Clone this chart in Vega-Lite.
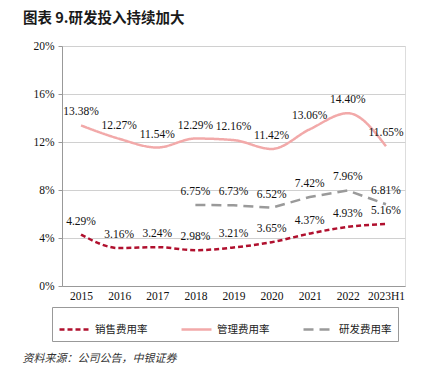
{
  "$schema": "https://vega.github.io/schema/vega-lite/v6.json",
  "width": 343,
  "height": 240,
  "autosize": {"type": "none"},
  "padding": {"left": 62, "top": 46, "right": 19, "bottom": 95},
  "background": "white",
  "title": {
    "text": "图表 9.研发投入持续加大",
    "anchor": "start",
    "frame": "group",
    "dx": -39,
    "offset": 14,
    "font": "Noto Sans CJK SC",
    "fontSize": 14.5,
    "fontWeight": "bold",
    "color": "#1a1a1a"
  },
  "data": {
    "values": [
      {"year": "2015", "series": "销售费用率", "value": 0.0429},
      {"year": "2016", "series": "销售费用率", "value": 0.0316},
      {"year": "2017", "series": "销售费用率", "value": 0.0324},
      {"year": "2018", "series": "销售费用率", "value": 0.0298},
      {"year": "2019", "series": "销售费用率", "value": 0.0321},
      {"year": "2020", "series": "销售费用率", "value": 0.0365},
      {"year": "2021", "series": "销售费用率", "value": 0.0437},
      {"year": "2022", "series": "销售费用率", "value": 0.0493},
      {"year": "2023H1", "series": "销售费用率", "value": 0.0516},
      {"year": "2015", "series": "管理费用率", "value": 0.1338},
      {"year": "2016", "series": "管理费用率", "value": 0.1227},
      {"year": "2017", "series": "管理费用率", "value": 0.1154},
      {"year": "2018", "series": "管理费用率", "value": 0.1229},
      {"year": "2019", "series": "管理费用率", "value": 0.1216},
      {"year": "2020", "series": "管理费用率", "value": 0.1142},
      {"year": "2021", "series": "管理费用率", "value": 0.1306},
      {"year": "2022", "series": "管理费用率", "value": 0.1440},
      {"year": "2023H1", "series": "管理费用率", "value": 0.1165},
      {"year": "2018", "series": "研发费用率", "value": 0.0675},
      {"year": "2019", "series": "研发费用率", "value": 0.0673},
      {"year": "2020", "series": "研发费用率", "value": 0.0652},
      {"year": "2021", "series": "研发费用率", "value": 0.0742},
      {"year": "2022", "series": "研发费用率", "value": 0.0796},
      {"year": "2023H1", "series": "研发费用率", "value": 0.0681}
    ]
  },
  "encoding": {
    "x": {
      "field": "year",
      "type": "ordinal",
      "sort": null,
      "scale": {"type": "point", "padding": 0.5},
      "axis": {
        "title": "资料来源：公司公告，中银证券",
        "titleAnchor": "start",
        "titleAlign": "left",
        "titleX": -40,
        "titleY": 66,
        "titleFont": "Noto Sans CJK SC",
        "titleFontSize": 11,
        "titleFontStyle": "italic",
        "titleFontWeight": "normal",
        "titleColor": "#333",
        "labelAngle": 0,
        "labelFont": "Liberation Serif",
        "labelFontSize": 11.5,
        "labelColor": "#111",
        "labelPadding": 4,
        "ticks": false,
        "domainColor": "#999",
        "grid": false
      }
    },
    "y": {
      "field": "value",
      "type": "quantitative",
      "scale": {"domain": [0, 0.2]},
      "axis": {
        "title": null,
        "values": [0, 0.04, 0.08, 0.12, 0.16, 0.2],
        "format": ".0%",
        "labelFont": "Liberation Serif",
        "labelFontSize": 11.5,
        "labelColor": "#111",
        "labelPadding": 4,
        "tickSize": 4,
        "tickColor": "#999",
        "domainColor": "#999",
        "gridColor": "#d0d0d0"
      }
    },
    "color": {
      "field": "series",
      "type": "nominal",
      "scale": {"domain": ["销售费用率", "管理费用率", "研发费用率"], "range": ["#B0102E", "#F2A9A9", "#9A9A9A"]},
      "legend": {
        "title": null,
        "orient": "none",
        "legendX": -10,
        "legendY": 261,
        "direction": "horizontal",
        "columns": 3,
        "strokeColor": "#999",
        "padding": 6,
        "symbolType": "stroke",
        "symbolSize": 900,
        "symbolStrokeWidth": 2.5,
        "columnPadding": 28,
        "labelFont": "Noto Sans CJK SC",
        "labelFontSize": 10.5,
        "labelColor": "#222"
      }
    },
    "strokeDash": {
      "field": "series",
      "type": "nominal",
      "scale": {"domain": ["销售费用率", "管理费用率", "研发费用率"], "range": [[5, 3], [1, 0], [10, 6]]},
      "legend": null
    }
  },
  "layer": [
    {
      "transform": [{"filter": "datum.series != '研发费用率'"}],
      "mark": {"type": "line", "interpolate": "monotone", "strokeWidth": 2.5}
    },
    {
      "transform": [{"filter": "datum.series == '研发费用率'"}],
      "mark": {"type": "line", "strokeWidth": 2.5}
    },
    {
      "mark": {"type": "text", "dy": -13, "font": "Liberation Serif", "fontSize": 11.5, "color": "#111"},
      "encoding": {
        "text": {"field": "value", "type": "quantitative", "format": ".2%"},
        "color": {"value": "#111"},
        "strokeDash": null
      }
    }
  ]
}
